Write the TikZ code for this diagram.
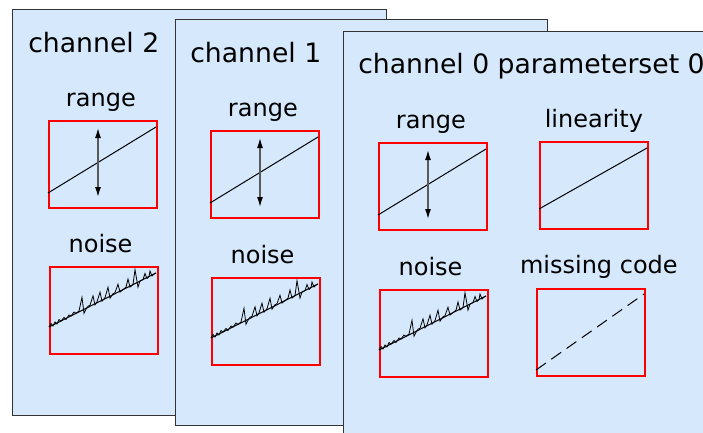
\documentclass[tikz,border=0pt]{standalone}
\usepackage{fontspec}
\setmainfont{DejaVu Sans}
\usetikzlibrary{arrows.meta}
\definecolor{panelblue}{RGB}{213,232,252}
\tikzset{
  panel/.style   = {draw=black!80, fill=panelblue, line width=0.9pt, anchor=north west, inner sep=0pt},
  plotbox/.style = {draw=red, line width=1.3pt, anchor=north west, inner sep=0pt, minimum width=81pt, minimum height=65.25pt},
  ttl/.style     = {font=\fontsize{20}{24}\selectfont, anchor=base west, inner sep=0pt},
  lbl/.style     = {font=\fontsize{18}{22}\selectfont, anchor=base, inner sep=0pt},
  trace/.style   = {draw=black, line width=0.75pt},
  noisy/.style   = {draw=black, line width=0.6pt},
  span/.style    = {{Latex[length=7.5pt,width=4.5pt,black]}-{Latex[length=7.5pt,width=4.5pt,black]}, draw=black!65, line width=1pt},
}
% plot contents, drawn from the box's north west corner
\newcommand{\rangeplot}[1]{%
  \begin{scope}[shift={(#1.north west)}]
    \draw[trace] (0,73) -- (108,7);
    \draw[span] (50,8) -- (50,77);
  \end{scope}}
\newcommand{\noiseplot}[1]{%
  \begin{scope}[shift={(#1.north west)}]
    \draw[trace] (0,61) -- (107,7);
    \draw[noisy] (0,61) -- (2,57.5) -- (4,60) -- (6,56) -- (8,58) -- (10,53.5) -- (12,55)
      -- (15,51.5) -- (17,53.5) -- (20,49) -- (22,50) -- (25,46) -- (27,47.4) -- (30,45)
      -- (33,31.3) -- (35,47.3) -- (37,43.3) -- (39,40.3) -- (41,39.3) -- (44,29.8) -- (46,38.8) -- (48,35.8)
      -- (51,26.2) -- (53,35.2) -- (56,31.7) -- (59,21.2) -- (61,32.2) -- (64,27.7) -- (66,26.7)
      -- (69,18.2) -- (71,26.1) -- (74,23.6) -- (77,21.1) -- (79,13.1) -- (81,21.1) -- (84,18.6)
      -- (86,3.6) -- (89,21.1) -- (91,15) -- (94,13.5) -- (96,7.5) -- (98,12.5) -- (100,10.5)
      -- (101,5) -- (103,10) -- (105,8) -- (107,7);
  \end{scope}}

\begin{document}
\begin{tikzpicture}[x=0.75pt,y=-0.75pt]
  \useasboundingbox (0,0) rectangle (703,432);
  \clip (0,0) rectangle (703,432);

  % channel 2
  \node[panel, minimum width=280.5pt, minimum height=304.5pt] (p2) at (12,9) {};
  \node[ttl] (t2) at (28,52) {channel 2};
  \node[plotbox] (r2) at (48,120) {};
  \node[plotbox] (n2) at (49,266) {};
  \node[lbl] (lr2) at ([xshift=-1.5pt,yshift=10.5pt]r2.north) {range};
  \node[lbl] (ln2) at ([xshift=-2.5pt,yshift=10pt]n2.north) {noise};
  \rangeplot{r2}
  \noiseplot{n2}

  % channel 1
  \node[panel, minimum width=279pt, minimum height=304.5pt] (p1) at (175,19) {};
  \node[ttl] (t1) at (190,62) {channel 1};
  \node[plotbox] (r1) at (210,130) {};
  \node[plotbox] (n1) at (211,277) {};
  \node[lbl] (lr1) at ([xshift=-1.5pt,yshift=10.5pt]r1.north) {range};
  \node[lbl] (ln1) at ([xshift=-2.5pt,yshift=10pt]n1.north) {noise};
  \rangeplot{r1}
  \noiseplot{n1}

  % channel 0
  \node[panel, minimum width=312.75pt, minimum height=329.25pt] (p0) at (343,31) {};
  \node[ttl] (t0) at (358,73) {channel 0 parameterset 0};
  \node[plotbox] (r0) at (378,142) {};
  \node[plotbox] (l0) at (539,141) {};
  \node[plotbox] (n0) at (379,289) {};
  \node[plotbox] (m0) at (536,288) {};
  \node[lbl] (lr0) at ([xshift=-1.5pt,yshift=10.5pt]r0.north) {range};
  \node[lbl] (ll0) at ([yshift=10.5pt]l0.north) {linearity};
  \node[lbl] (ln0) at ([xshift=-2.5pt,yshift=10pt]n0.north) {noise};
  \node[lbl] (lm0) at ([xshift=6pt,yshift=11pt]m0.north) {missing code};
  \rangeplot{r0}
  \noiseplot{n0}
  \begin{scope}[shift={(l0.north west)}]
    \draw[trace] (0,68) -- (108,7);
  \end{scope}
  \begin{scope}[shift={(m0.north west)}]
    \draw[trace, dash pattern=on 9pt off 5pt] (0,82) -- (108,6);
  \end{scope}
\end{tikzpicture}
\end{document}
